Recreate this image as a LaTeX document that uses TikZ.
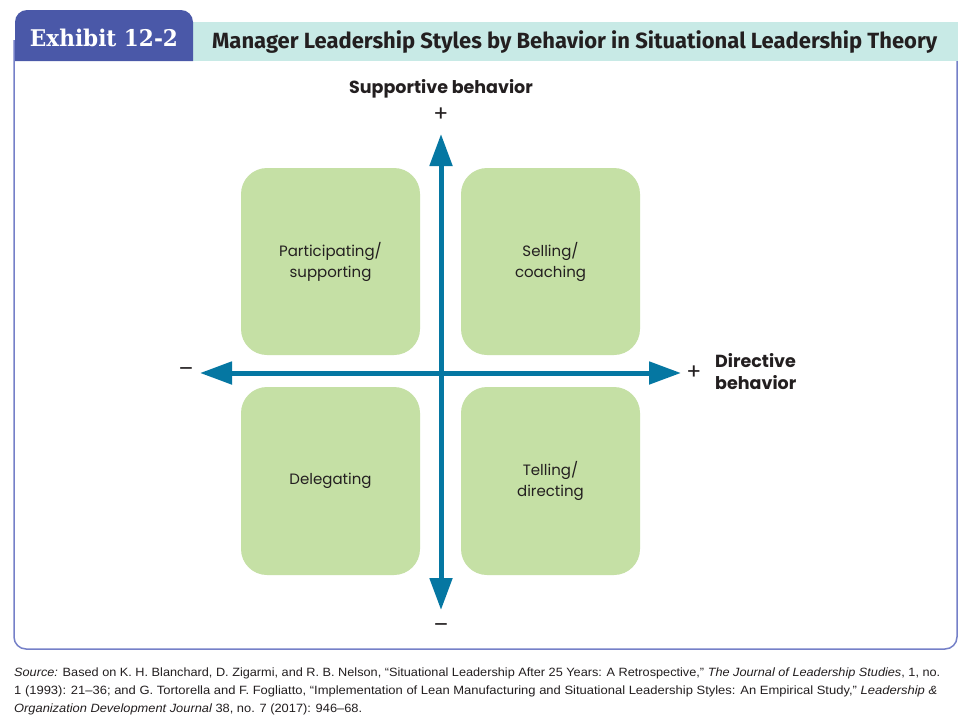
\documentclass[tikz,border=0pt]{standalone}
\usepackage{fontspec}
\usepackage{graphicx}
\setmainfont{Poppins}
\newfontfamily\titlefont{Fira Sans}
\newfontfamily\slabfont{DejaVu Serif}
\newfontfamily\srcfont{Liberation Sans}
\usetikzlibrary{arrows.meta}
\definecolor{tabblue}{HTML}{4A58A8}
\definecolor{barteal}{HTML}{C8EAE6}
\definecolor{framec}{HTML}{7580C8}
\definecolor{boxgreen}{HTML}{C5E0A5}
\definecolor{arrowblue}{HTML}{0577A2}
\definecolor{textc}{HTML}{231F20}
\tikzset{
  quad/.style={fill=boxgreen, rounded corners=26pt},
  boxlabel/.style={align=center, font=\fontsize{15}{21}\selectfont, text=textc, inner sep=0pt},
  axislabel/.style={font=\fontsize{17.5}{22}\selectfont\bfseries, text=textc, inner sep=0pt},
  signlabel/.style={font=\fontsize{22}{22}\selectfont, text=textc, inner sep=0pt},
  axis/.style={arrowblue, line width=5pt, -{Triangle[length=32pt,width=22pt]}},
  srcline/.style={anchor=base west, inner sep=0pt, text=textc, font=\srcfont\fontsize{12}{12}\selectfont}
}
\begin{document}
\begin{tikzpicture}[x=1pt,y=-1pt]
\useasboundingbox (0,0) rectangle (975,720);
\fill[white] (0,0) rectangle (975,720);
% frame
\draw[framec, line width=1.5pt, rounded corners=12pt] (14,40) -- (14,649) -- (957,649) -- (957,61);
% title bar
\fill[barteal] (193,22) rectangle (958,61);
% tab
\fill[tabblue] (15,61) [rounded corners=12pt] -- (15,10) -- (193,10) [sharp corners] -- (193,61) -- cycle;
\node[inner sep=0pt, text=white, anchor=base] (tabtext) at (104,46)
  {\resizebox{148pt}{\height}{\slabfont\fontsize{23}{23}\selectfont\bfseries Exhibit 12-2}};
\node[inner sep=0pt, text=textc, anchor=base west] (titletext) at (212,48)
  {\resizebox{725pt}{\height}{\titlefont\fontsize{22}{22}\selectfont\bfseries Manager Leadership Styles by Behavior in Situational Leadership Theory}};
% quadrants
\fill[quad] (241,168) rectangle (420,355);
\fill[quad] (461,168) rectangle (640,355);
\fill[quad] (241,387) rectangle (420,575);
\fill[quad] (461,387) rectangle (640,575);
\node[boxlabel] (q1) at (330.5,262) {Participating/\\supporting};
\node[boxlabel] (q2) at (550.5,262) {Selling/\\coaching};
\node[boxlabel] (q3) at (330.5,481) {Delegating};
\node[boxlabel] (q4) at (550.5,481) {Telling/\\directing};
% axes
\coordinate (center) at (441,373);
\coordinate (top) at (441,134);
\coordinate (bottom) at (441,610);
\coordinate (left) at (200,373);
\coordinate (right) at (681,373);
\draw[axis] (center) -- (top);
\draw[axis] (center) -- (bottom);
\draw[axis] (center) -- (left);
\draw[axis] (center) -- (right);
% axis labels
\node[axislabel] (suplabel) at (441,89) {Supportive behavior};
\node[signlabel] (plustop) at (441,115) {+};
\node[signlabel] (minusbot) at (441,628) {\textendash};
\node[signlabel] (minusleft) at (186,372) {\textendash};
\node[signlabel] (plusright) at (694,373) {+};
\node[axislabel, align=left, anchor=west] (dirlabel) at (715,372) {Directive\\behavior};
% source
\node[srcline] (src1) at (14,676) {\resizebox{926pt}{\height}{\itshape Source:\upshape{} Based on K. H. Blanchard, D. Zigarmi, and R. B. Nelson, “Situational Leadership After 25 Years: A Retrospective,” \itshape The Journal of Leadership Studies\upshape, 1, no.}};
\node[srcline] (src2) at (14,694) {\resizebox{923pt}{\height}{1 (1993): 21–36; and G. Tortorella and F. Fogliatto, “Implementation of Lean Manufacturing and Situational Leadership Styles: An Empirical Study,” \itshape Leadership \&}};
\node[srcline] (src3) at (14,712) {\resizebox{348pt}{\height}{\itshape Organization Development Journal\upshape{} 38, no. 7 (2017): 946–68.}};
\end{tikzpicture}
\end{document}
